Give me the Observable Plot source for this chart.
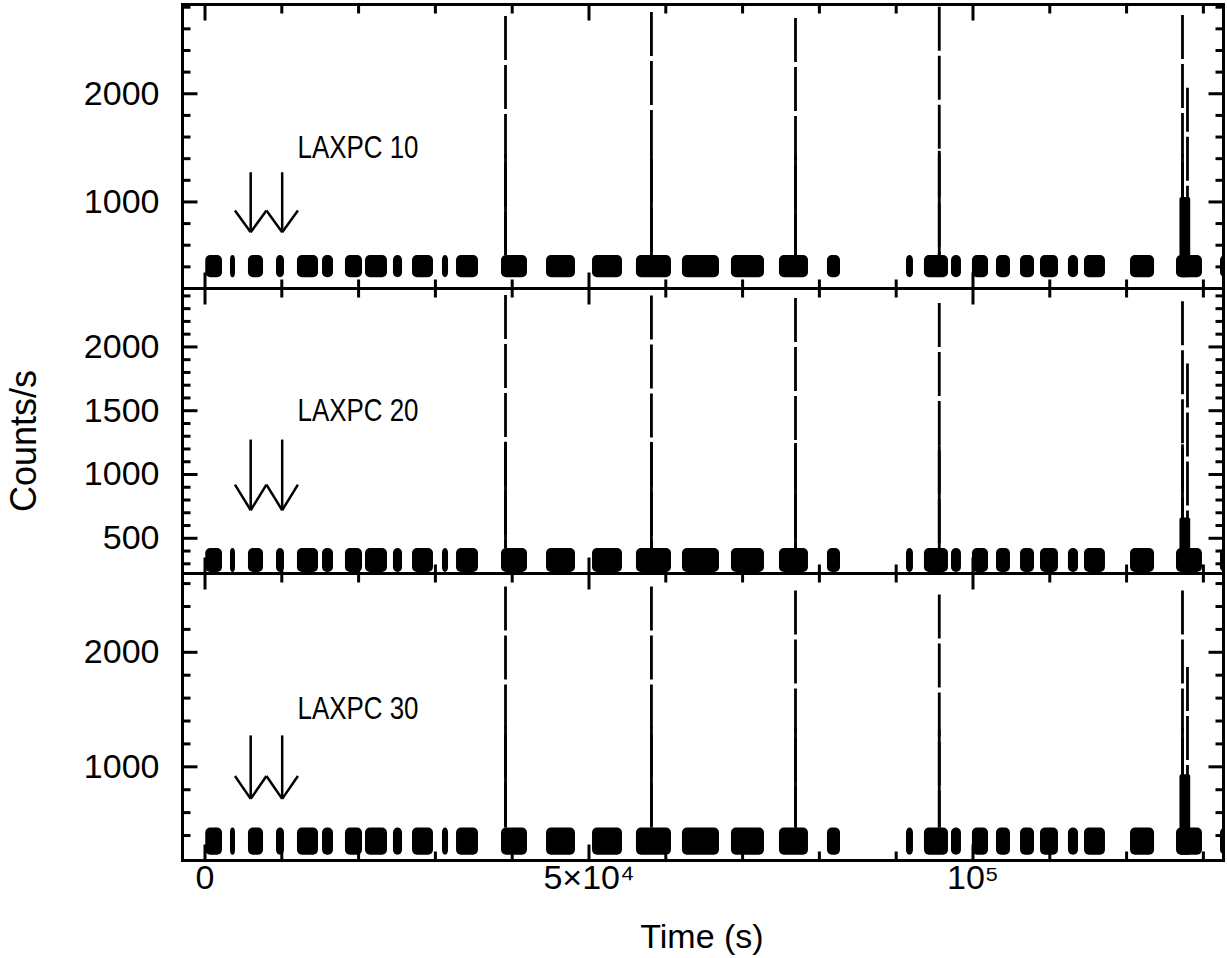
<!DOCTYPE html>
<html><head><meta charset="utf-8">
<script src="https://cdn.jsdelivr.net/npm/d3@7"></script>
<script src="https://cdn.jsdelivr.net/npm/@observablehq/plot@0.6"></script>
<style>
body{margin:0;background:#fff;}
#wrap{position:relative;width:1227px;height:958px;font-family:"Liberation Sans",Arial,sans-serif;color:#000;overflow:hidden;}
#ylab{position:absolute;left:24px;top:441px;transform:translate(-50%,-50%) rotate(-90deg);font-size:36px;white-space:nowrap;}
#xlab{position:absolute;left:702px;top:936px;transform:translate(-50%,-50%);font-size:34px;white-space:nowrap;}
</style></head>
<body>
<div id="wrap"><div id="ylab">Counts/s</div><div id="xlab">Time (s)</div></div>
<script>
// ---- data ----
const detectors = ["LAXPC 10", "LAXPC 20", "LAXPC 30"];
// observation segments (orbits), time in s
const segStart = [100, 3320, 5660, 9310, 12040, 15300, 18290, 20900, 24540, 27020, 30920, 32750, 38610, 44470, 50460, 56180, 62170, 68550, 74800, 81050, 91340, 93680, 97200, 99930, 103060, 106190, 108790, 112430, 114520, 120510, 126500, 132230];
const segEnd   = [2280, 3970, 7620, 10350, 14780, 16730, 20510, 23760, 25720, 29750, 31710, 35610, 41990, 48240, 54360, 60740, 66990, 72850, 78580, 82750, 92250, 96810, 98500, 102020, 104880, 108010, 111130, 113740, 117250, 123640, 129880, 134000];
// persistent count-rate band (min / max) per detector
const bandLow  = [300, 232, 228];
const bandHigh = [505, 420, 465];
// bursts
const burstTimes   = [39130, 58130, 76890, 95610, 127280];
const burstPeak10  = [2715, 2752, 2696, 2799, 2724];
const burstPeak20  = [2403, 2400, 2380, 2340, 2355];
const burstPeak30  = [2570, 2570, 2535, 2500, 2535];
const secondSpikeTime = 127930;
const secondSpikePeak = [2050, 1866, 1868];
const flareCoreStart = 126950, flareCoreEnd = 128350;
const flareCoreTop = [1040, 660, 930];
// arrows and labels (annotation positions)
const arrowTimes = [5950, 10050];
const arrowTop = 1270, arrowTip = 720, arrowHeadTop = 920, arrowHalfWidth = 2050;
const labelTime = 12040, labelCounts = 1500;
// axes
const xDomain = [-2930, 132620];
const xMajor = [0, 50000, 100000];
const xMajorLabels = ["0", "5×10⁴", "10⁵"];
const xMinor = [10000, 20000, 30000, 40000, 60000, 70000, 80000, 90000, 110000, 120000, 130000];
const yDomains = [[200, 2825], [224, 2458], [182, 2688]];
const yMajorTicks = [[1000, 2000], [500, 1000, 1500, 2000], [1000, 2000]];
const yMinorTicks = [
  [400, 600, 800, 1200, 1400, 1600, 1800, 2200, 2400, 2600, 2800],
  [300, 400, 600, 700, 800, 900, 1100, 1200, 1300, 1400, 1600, 1700, 1800, 1900, 2100, 2200, 2300, 2400],
  [400, 600, 800, 1200, 1400, 1600, 1800, 2200, 2400, 2600]
];
const peaksByDet = [burstPeak10, burstPeak20, burstPeak30];

const W = 1227, ML = 182, MR = 4;
const layout = [
  {top: 0, height: 292, marginTop: 4, marginBottom: 4},
  {top: 284, height: 293, marginTop: 4, marginBottom: 4},
  {top: 569, height: 389, marginTop: 4, marginBottom: 98}
];

const SW = 2.5, TW = 3, MAJ = 15, MIN = 8;
function panel(i) {
  const L = layout[i];
  const yDom = yDomains[i];
  // pixel -> data conversion so inward ticks keep a constant pixel length
  const xPerPx = (xDomain[1] - xDomain[0]) / (W - ML - MR);
  const yPerPx = (yDom[1] - yDom[0]) / (L.height - L.marginTop - L.marginBottom);
  const segs = segStart.map((s, j) => ({x1: s, x2: segEnd[j], y1: bandLow[i], y2: bandHigh[i]}));
  const bursts = burstTimes.map((t, j) => ({t, base: bandHigh[i], peak: peaksByDet[i][j]}));
  const spike2 = [{t: secondSpikeTime, base: bandHigh[i], peak: secondSpikePeak[i]}];
  const arms = arrowTimes.flatMap(t => [{a: t - arrowHalfWidth, b: t}, {a: t + arrowHalfWidth, b: t}]);
  const yTicks = (ticks, len) => [
    Plot.link(ticks, {y1: d => d, y2: d => d, x1: d => xDomain[0], x2: d => xDomain[0] + len * xPerPx, stroke: "black", strokeWidth: TW}),
    Plot.link(ticks, {y1: d => d, y2: d => d, x1: d => xDomain[1] - len * xPerPx, x2: d => xDomain[1], stroke: "black", strokeWidth: TW})
  ];
  const xTicks = (ticks, len) => [
    Plot.link(ticks, {x1: d => d, x2: d => d, y1: d => yDom[0], y2: d => yDom[0] + len * yPerPx, stroke: "black", strokeWidth: TW}),
    Plot.link(ticks, {x1: d => d, x2: d => d, y1: d => yDom[1] - len * yPerPx, y2: d => yDom[1], stroke: "black", strokeWidth: TW})
  ];
  const marks = [
    Plot.rect(segs, {x1: "x1", x2: "x2", y1: "y1", y2: "y2", fill: "black", rx: 5, clip: true}),
    Plot.rect([{x1: flareCoreStart, x2: flareCoreEnd, y1: bandLow[i], y2: flareCoreTop[i]}], {x1: "x1", x2: "x2", y1: "y1", y2: "y2", fill: "black", rx: 2, clip: true}),
    Plot.ruleX(bursts.concat(spike2), {x: "t", y1: "peak", y2: "base", stroke: "black", strokeWidth: 2.8, strokeDasharray: "44,5", clip: true}),
    Plot.ruleX(bursts, {x: "t", y1: "base", y2: d => d.base + 0.42 * (d.peak - d.base), stroke: "black", strokeWidth: 2.8, clip: true}),
    Plot.ruleX(arrowTimes, {x: d => d, y1: arrowTop, y2: arrowTip, stroke: "black", strokeWidth: SW}),
    Plot.link(arms, {x1: "a", x2: "b", y1: arrowHeadTop, y2: arrowTip, stroke: "black", strokeWidth: SW}),
    Plot.text([detectors[i]], {x: labelTime, y: labelCounts, text: d => d, textAnchor: "start", fontSize: 31}),
    ...yTicks(yMajorTicks[i], MAJ),
    ...yTicks(yMinorTicks[i], MIN),
    ...xTicks(xMajor, MAJ + 1),
    ...xTicks(xMinor, MIN + 1),
    Plot.frame({stroke: "black", strokeWidth: 3}),
    Plot.axisY(yMajorTicks[i], {anchor: "left", tickSize: 0, tickPadding: 23, fontSize: 34, label: null, tickFormat: d => String(d)})
  ];
  if (i === 2) {
    marks.push(Plot.text(xMajor, {x: d => d, frameAnchor: "bottom", dy: 28, text: d => xMajorLabels[xMajor.indexOf(d)], fontSize: 34}));
  }
  const svg = Plot.plot({
    width: W, height: L.height,
    marginLeft: ML, marginRight: MR, marginTop: L.marginTop, marginBottom: L.marginBottom,
    x: {domain: xDomain, axis: null},
    y: {domain: yDom},
    style: {background: "transparent", overflow: "visible", fontFamily: "'Liberation Sans',Arial,sans-serif", color: "black"},
    marks
  });
  svg.querySelectorAll("text").forEach(t => {
    if (t.textContent.startsWith("LAXPC")) {
      t.setAttribute("textLength", "121");
      t.setAttribute("lengthAdjust", "spacingAndGlyphs");
    }
  });
  svg.style.position = "absolute";
  svg.style.top = L.top + "px";
  svg.style.left = "0px";
  return svg;
}
const wrap = document.getElementById("wrap");
[0, 1, 2].forEach(i => wrap.appendChild(panel(i)));
</script>
</body></html>
